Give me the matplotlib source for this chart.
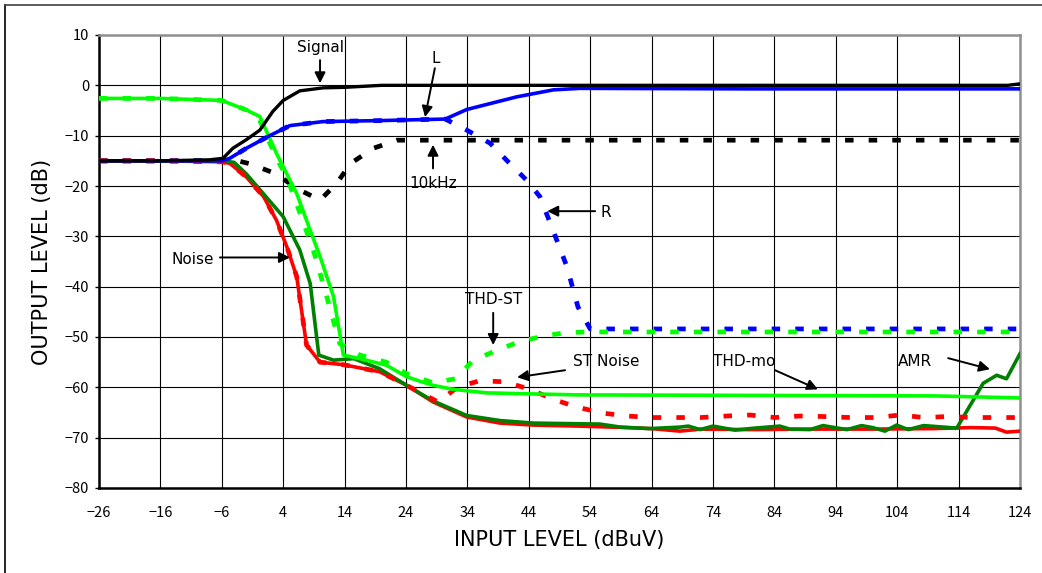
"""FM tuner characteristics: output level vs input level."""
import matplotlib
matplotlib.use('Agg')
import matplotlib.pyplot as plt
from matplotlib.lines import Line2D

plt.rcParams['font.family'] = ['Noto Sans CJK JP', 'DejaVu Sans']

# Signal (black solid)
signal_x = [-26, -16, -8, -5.8, -4.2, -2, 0.2, 2.3, 4, 6.7, 10.5, 14, 20, 40, 80, 122, 124]
signal_y = [-15, -15, -14.8, -14.5, -12.5, -10.8, -8.9, -5.2, -3, -1.1, -0.5, -0.4, 0, 0, 0, 0, 0.3]

# L (blue solid)
l_x = [-26, -16, -6, -4.7, -2, 1.8, 5.1, 10.5, 20, 30.4, 33.9, 42, 48, 52.3, 80, 124]
l_y = [-15, -15, -15, -14.5, -12.5, -10, -8, -7.2, -7, -6.7, -4.8, -2.3, -0.9, -0.6, -0.7, -0.7]

# R (blue dashed)
r_x = [-26, -16, -6, -4.7, -2, 1.8, 5.1, 10.5, 20, 30.4, 33.9, 37.7, 40.4, 43.6, 45.8,
       47.5, 50.2, 52, 54, 124]
r_y = [-15, -15, -15, -14.5, -12.5, -10, -8, -7.2, -7, -6.7, -8.9, -11.5, -14.9, -18.8, -22.1,
       -27.4, -36, -44, -48.4, -48.4]

# 10kHz (black dashed)
khz_x = [-26, -16, -6, -4, -1.4, 2.9, 6.2, 10, 12.7, 15, 18.7, 22.5, 124]
khz_y = [-15, -15, -15, -14.8, -15.6, -17.6, -20.5, -22.8, -19.5, -15.5, -12.5, -10.9, -10.9]

# THD-mo (bright green solid)
thd_mo_x = [-26, -16, -6, -2, 0.2, 2.9, 6.2, 8.4, 10, 12.2, 13.8, 16.5, 20.8, 24.1, 26.3,
            28.4, 31.7, 37.1, 44.2, 52, 80, 110, 124]
thd_mo_y = [-2.6, -2.6, -3, -4.9, -6.2, -13.5, -21.5, -28.8, -34, -42, -53.6, -54.3, -55.6,
            -57.9, -58.8, -59.6, -60.4, -61.1, -61.3, -61.5, -61.6, -61.7, -62.1]

# THD-ST (bright green dashed)
thd_st_x = [-26, -16, -6, -2, 0.2, 2.9, 4.6, 8.9, 11.1, 13.2, 16.5, 20.8, 24.1, 28.4, 32,
            35, 38.5, 42.3, 46.4, 50.2, 54, 124]
thd_st_y = [-2.6, -2.6, -3, -4.9, -7, -14.5, -18.2, -32.7, -42, -51.3, -53.6, -55, -57.3,
            -59.1, -58.3, -54.6, -52.8, -51, -49.8, -49.1, -49, -49]

# Noise (red solid)
noise_x = [-26, -16, -6, -4.7, -2, 0.8, 2.9, 4.6, 6.2, 7.8, 10, 12.2, 13.8, 19.7, 24.1, 28.4,
           33.9, 39.3, 44.7, 52, 60, 64, 68.6, 72, 80, 90, 100, 110, 116, 120, 121.8, 124]
noise_y = [-15, -15, -15.2, -15.5, -18.2, -22.1, -26.8, -32.1, -38, -51.6, -55, -55.3, -55.5,
           -56.9, -59.6, -62.9, -65.9, -67.1, -67.5, -67.7, -68, -68.2, -68.7, -68.3, -68.4,
           -68.3, -68.3, -68.2, -68, -68.1, -68.9, -68.7]

# ST Noise (red dashed)
st_noise_x = [-26, -16, -6, -4.7, -2, 0.8, 2.9, 4.6, 6.2, 7.8, 10, 12.2, 13.8, 19.7, 24.1,
              29.2, 32.5, 36, 40.1, 44.2, 48, 51.8, 55.9, 60, 64, 68, 72, 76.2, 80, 84.1,
              88.2, 92, 96.3, 100.4, 104.5, 108.3, 112.3, 116.3, 120.4, 124]
st_noise_y = [-15, -15, -15.2, -15.5, -18.2, -22.1, -26.8, -32.1, -38, -51.6, -55, -55.3,
              -55.5, -56.9, -59.6, -62.9, -59.9, -58.7, -58.9, -60.4, -62.4, -63.9, -65.1,
              -65.7, -66, -66, -66, -65.7, -65.5, -66, -65.7, -65.8, -66, -66, -65.5, -66,
              -65.8, -66, -66, -66]

# AMR (dark green solid)
amr_x = [-26, -16, -6, -4, -2, 4, 6.7, 8.4, 9.8, 12.2, 15.5, 19.7, 24.1, 28.4, 33.9, 39.3,
         44.7, 50, 55.6, 58.9, 63.7, 68.6, 70, 71.9, 74, 77.6, 80.8, 84.9, 86.5, 89.8, 91.9,
         95.8, 98.2, 100, 102, 103.9, 105.8, 108.3, 113.7, 118, 120.2, 121.8, 124]
amr_y = [-15, -15, -15, -15.3, -17.6, -26.1, -32.7, -39.4, -53.6, -54.6, -54.3, -56.3, -59.6,
         -62.7, -65.6, -66.6, -67.1, -67.2, -67.3, -67.9, -68.2, -67.9, -67.7, -68.4, -67.7,
         -68.5, -68.1, -67.7, -68.3, -68.4, -67.6, -68.4, -67.6, -68, -68.7, -67.5, -68.4,
         -67.6, -68.1, -59.2, -57.6, -58.3, -53.3]

x_ticks = list(range(-26, 125, 10))
y_ticks = list(range(-80, 11, 10))

# annotations: (text, text position, arrow tail, arrow head)
notes = [
    ('Signal', (10, 7.5), (10, 5), (10, 0.4)),
    ('L', (28.9, 5.4), (28.7, 3.4), (27.1, -6.3)),
    ('10kHz', (28.4, -19.5), (28.4, -16.5), (28.4, -11.8)),
    ('R', (56.6, -25.2), (54.8, -25), (47.0, -25)),
    ('Noise', (-10.8, -34.6), (-6.3, -34.2), (5.1, -34.2)),
    ('THD-ST', (38.3, -42.5), (38.2, -45.2), (38.2, -51.6)),
    ('ST Noise', (56.6, -54.9), (49.9, -56.6), (42.1, -58)),
    ('THD-mo', (79, -54.9), (84.1, -56.6), (91.1, -60.4)),
    ('AMR', (106.9, -54.9), (112.3, -54.2), (119.1, -56.4)),
]

fig = plt.figure(figsize=(10.42, 5.73), dpi=100)
ax = fig.add_axes([99 / 1042, 1 - 488 / 573, 921 / 1042, 453 / 573])

dash = (1.8, 3.2)
ax.plot(khz_x, khz_y, color='black', lw=3.4, dashes=dash, zorder=3)
ax.plot(r_x, r_y, color='#0000ff', lw=3.4, dashes=dash, zorder=3)
ax.plot(noise_x, noise_y, color='#ff0000', lw=2.6, zorder=4)
ax.plot(amr_x, amr_y, color='#008000', lw=2.6, zorder=5)
ax.plot(st_noise_x, st_noise_y, color='#ff0000', lw=3.4, dashes=dash, zorder=6)
ax.plot(thd_st_x, thd_st_y, color='#00ff00', lw=3.4, dashes=dash, zorder=6)
ax.plot(thd_mo_x, thd_mo_y, color='#00ff00', lw=2.6, zorder=7)
ax.plot(l_x, l_y, color='#0000ff', lw=2.6, zorder=7)
ax.plot(signal_x, signal_y, color='black', lw=2.4, zorder=8)

for text, xy_text, tail, head in notes:
    ax.text(xy_text[0], xy_text[1], text, fontsize=11, family='DejaVu Sans',
            ha='center', va='center', zorder=10)
    ax.annotate('', xy=head, xytext=tail, zorder=10,
                arrowprops=dict(arrowstyle='-|>', color='black', lw=1.4,
                                mutation_scale=16, shrinkA=0, shrinkB=0))

ax.set_xlim(-26, 124)
ax.set_ylim(-80, 10)
ax.set_xticks(x_ticks)
ax.set_yticks(y_ticks)
ax.grid(True, color='black', lw=0.8)
ax.set_axisbelow(True)
ax.tick_params(axis='x', length=0, pad=13, labelsize=10.5)
ax.tick_params(axis='y', length=3, width=1, pad=4, labelsize=10.5)
ax.set_xlabel('INPUT LEVEL (dBuV)', fontsize=15, family='DejaVu Sans', labelpad=7)
ax.set_ylabel('OUTPUT LEVEL (dB)', fontsize=15, family='DejaVu Sans', labelpad=9)

for side in ['left', 'bottom']:
    ax.spines[side].set_linewidth(1.8)
    ax.spines[side].set_color('black')
for side in ['top', 'right']:
    ax.spines[side].set_linewidth(1.8)
    ax.spines[side].set_color('#909090')

# outer chart frame
fig.add_artist(Line2D([5 / 1042, 5 / 1042], [0, 1 - 5 / 573], color='black', lw=1.2))
fig.add_artist(Line2D([5 / 1042, 1], [1 - 5 / 573, 1 - 5 / 573], color='#404040', lw=1.2))

fig.savefig('out.png', dpi=100)
